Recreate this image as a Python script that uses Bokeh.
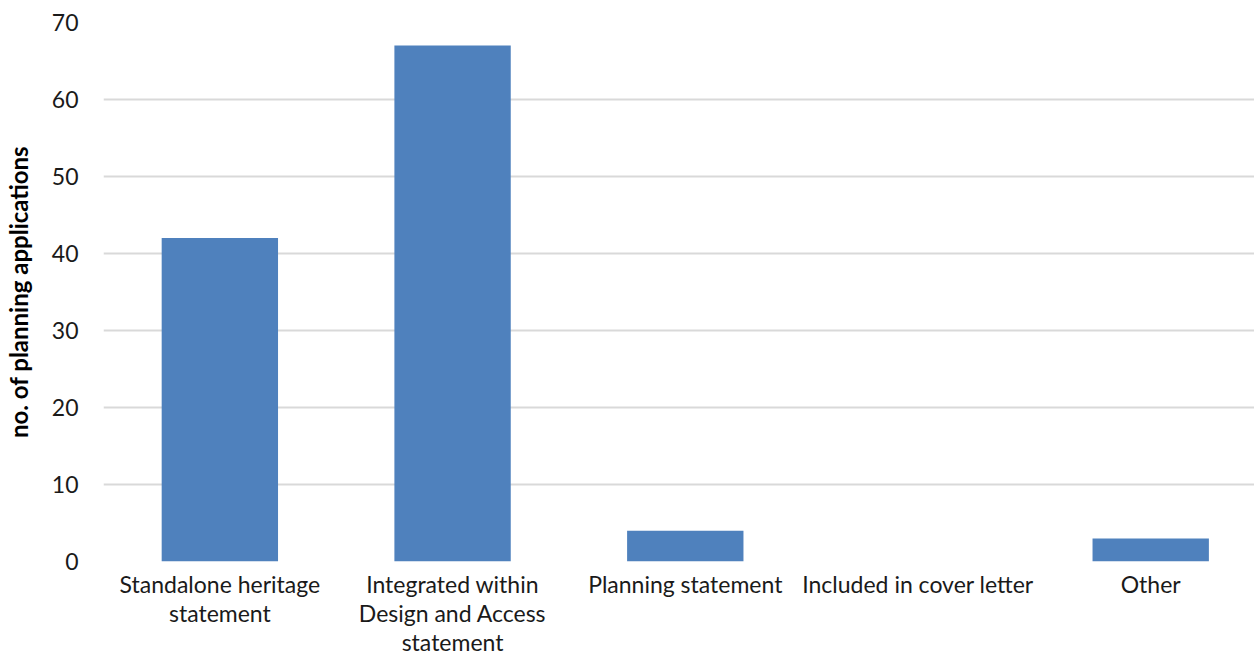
from bokeh.plotting import figure
from bokeh.models import Range1d, FixedTicker
from bokeh.embed import file_html
from bokeh.resources import INLINE

categories = ["Standalone heritage\nstatement",
              "Integrated within\nDesign and Access\nstatement",
              "Planning statement",
              "Included in cover letter",
              "Other"]
counts = [42, 67, 4, 0, 3]
y_ticks = [0, 10, 20, 30, 40, 50, 60, 70]

xpos = [i + 0.5 for i in range(len(categories))]

p = figure(width=1254, height=660, output_backend="svg", toolbar_location=None,
           x_range=Range1d(0, 4.946), y_range=Range1d(0, 70),
           min_border_left=102, min_border_right=0, min_border_top=22, min_border_bottom=99)
p.outline_line_color = None
p.background_fill_color = "white"
p.border_fill_color = "white"

p.vbar(x=xpos, top=counts, width=0.5, fill_color="#4f81bd", line_color=None)

p.xgrid.grid_line_color = None
p.ygrid.grid_line_color = "#d9d9d9"
p.ygrid.grid_line_width = 2
p.ygrid.ticker = FixedTicker(ticks=y_ticks)

p.yaxis.ticker = FixedTicker(ticks=y_ticks)
p.xaxis.ticker = FixedTicker(ticks=xpos)
p.xaxis.major_label_overrides = {x: c for x, c in zip(xpos, categories)}

for ax in (p.xaxis[0], p.yaxis[0]):
    ax.axis_line_color = None
    ax.major_tick_line_color = None
    ax.minor_tick_line_color = None
    ax.major_tick_out = 0
    ax.major_tick_in = 0
    ax.major_label_text_font = "Lato"
    ax.major_label_text_font_size = "23px"
    ax.major_label_text_color = "#1a1a1a"

p.yaxis.major_label_standoff = 25
p.xaxis.major_label_standoff = 8
p.xaxis.major_label_text_line_height = 1.05

ax = p.yaxis[0]
ax.axis_label = "no. of planning applications"
ax.axis_label_text_font = "Lato"
ax.axis_label_text_font_style = "bold"
ax.axis_label_text_font_size = "24px"
ax.axis_label_text_color = "#000000"
ax.axis_label_standoff = 16

open("out.html", "w").write(file_html(p, INLINE))
